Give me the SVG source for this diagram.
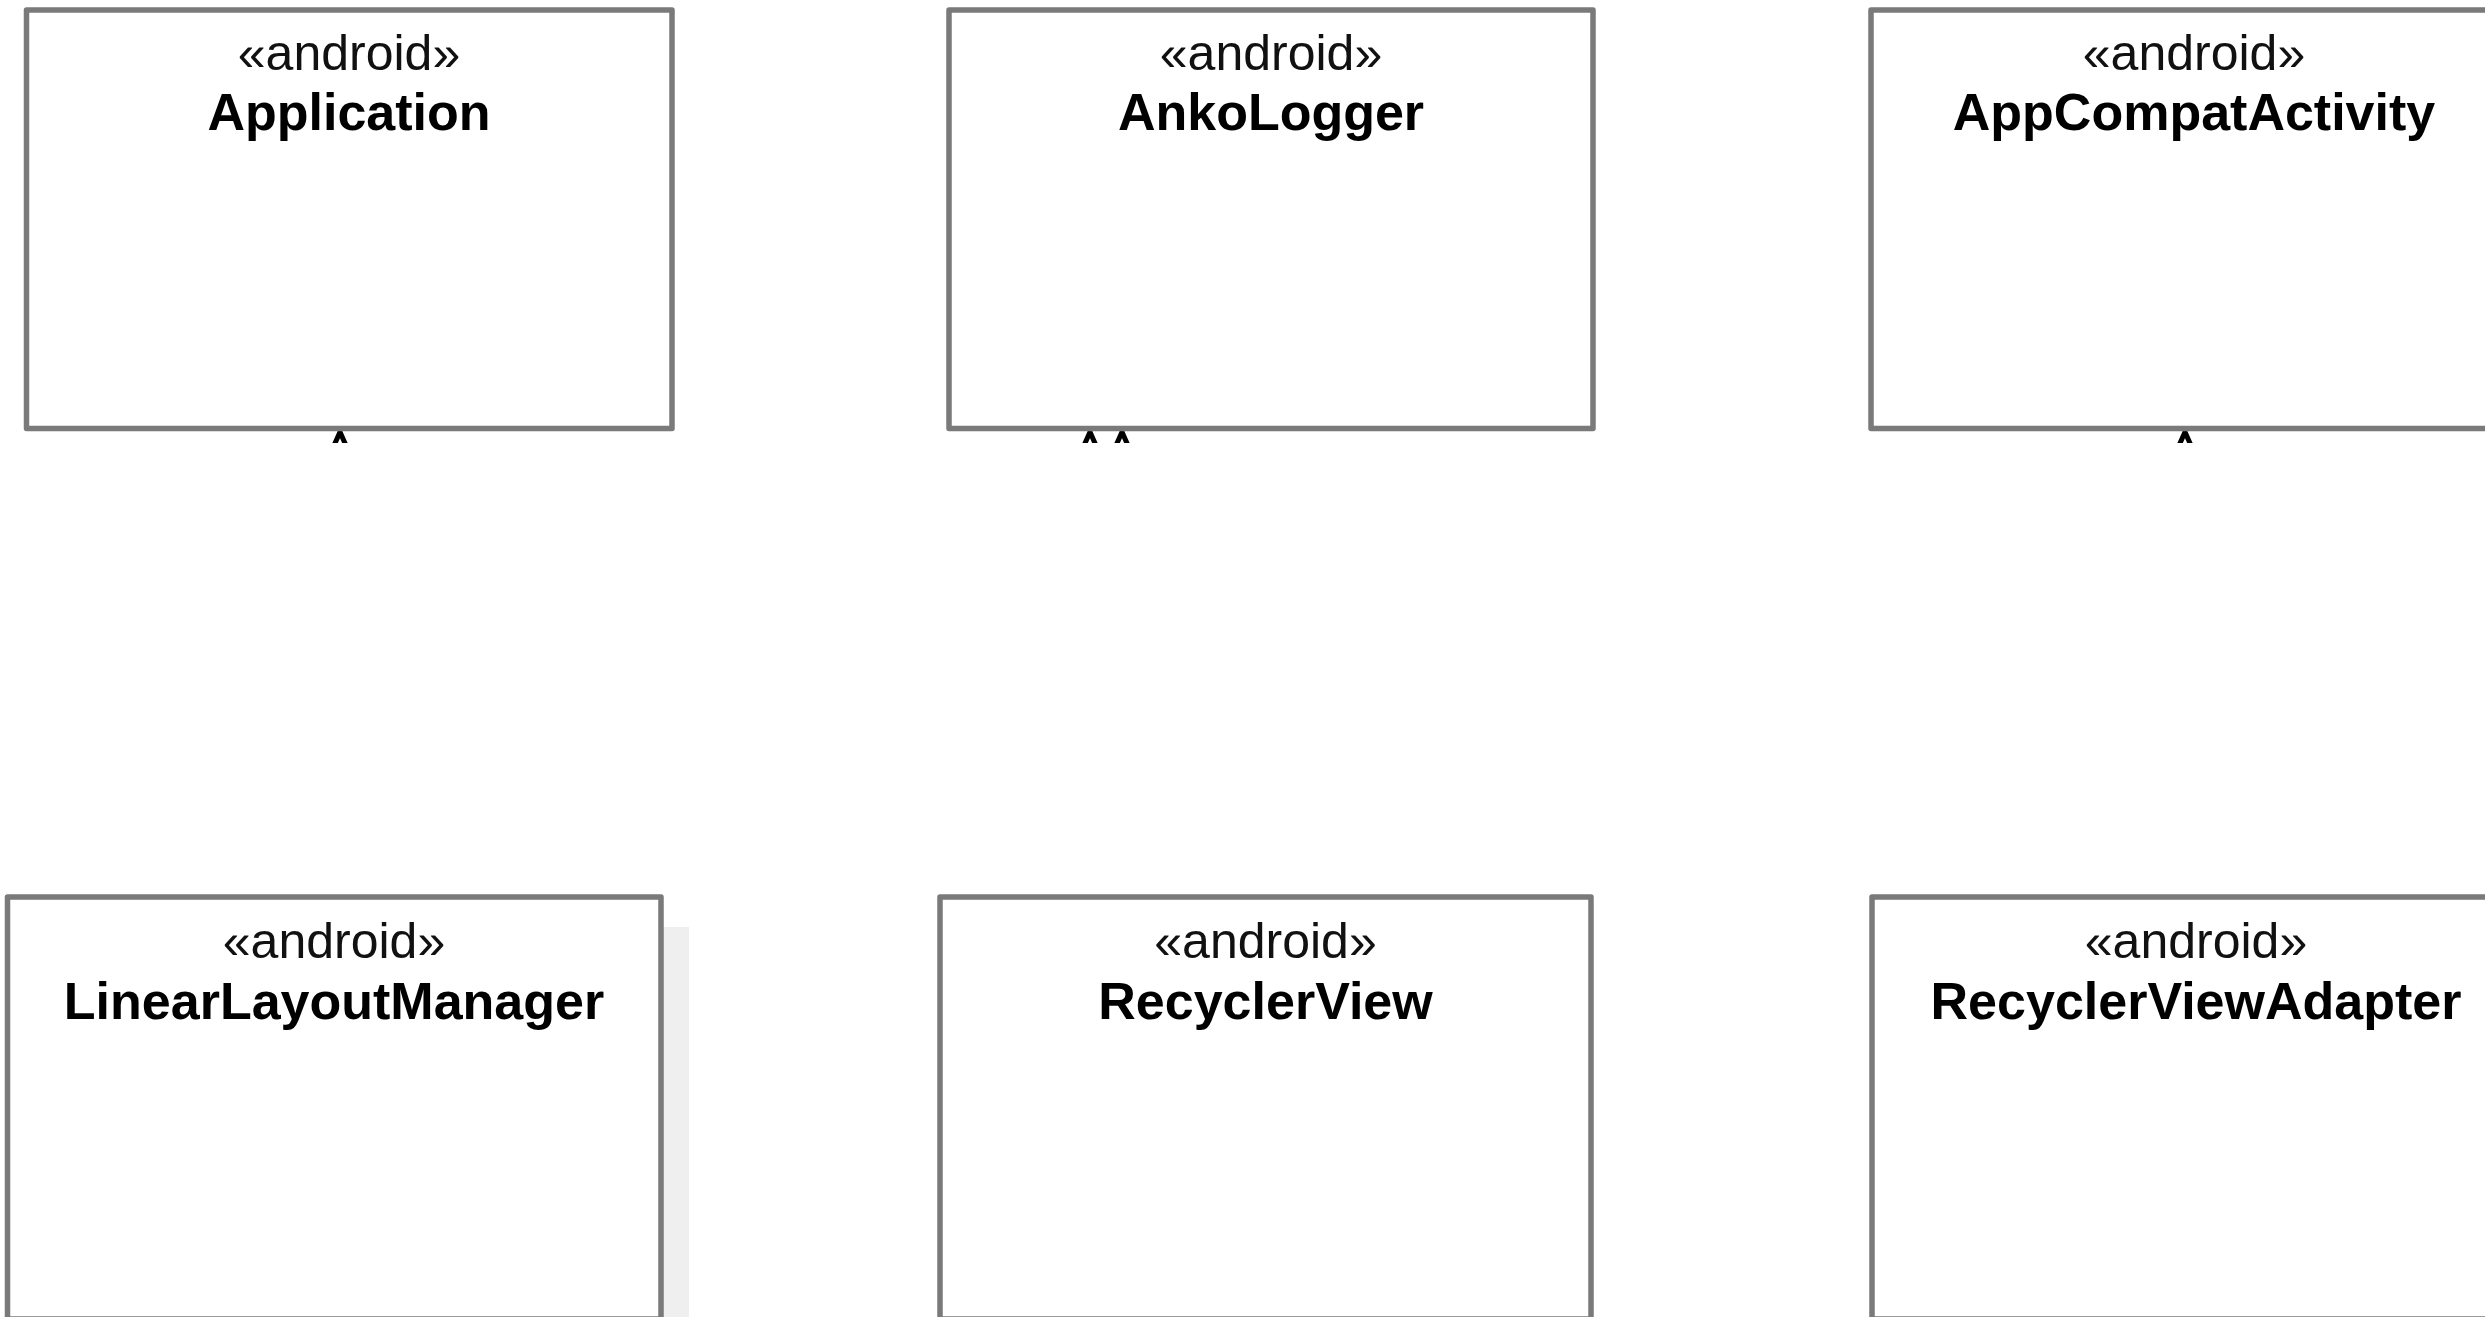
<svg xmlns="http://www.w3.org/2000/svg" width="2485" height="1317" viewBox="0 0 2485 1317">
  <style>
    .box { fill: #ffffff; stroke: #7a7a7a; stroke-width: 5.5; stroke-linejoin: round; }
    .st { font-family: "Liberation Sans", Arial, sans-serif; font-size: 50px; fill: #111111; text-anchor: middle; }
    .nm { font-family: "Liberation Sans", Arial, sans-serif; font-size: 52px; font-weight: bold; fill: #000000; text-anchor: middle; }
    .tip { fill: #ffffff; stroke: #000000; stroke-width: 5; stroke-linejoin: miter; }
  </style>
  <defs>
    <clipPath id="tipclip">
      <rect x="0" y="426" width="2485" height="17"/>
    </clipPath>
  </defs>
  <rect width="2485" height="1317" fill="#ffffff"/>

  <g id="connectors" clip-path="url(#tipclip)">
    <path class="tip" d="M340 432 L332 450 L348 450 Z"/>
    <path class="tip" d="M1090 432 L1082 450 L1098 450 Z"/>
    <path class="tip" d="M1122 432 L1114 450 L1130 450 Z"/>
    <path class="tip" d="M2185 432 L2177 450 L2193 450 Z"/>
  </g>

  <g id="node-application">
    <rect class="box" x="26.5" y="10" width="645.5" height="418.5"/>
    <text class="st" x="349" y="70">«android»</text>
    <text class="nm" x="349" y="130">Application</text>
  </g>

  <g id="node-ankologger">
    <rect class="box" x="949" y="10" width="644" height="418.5"/>
    <text class="st" x="1271" y="70">«android»</text>
    <text class="nm" x="1271" y="130">AnkoLogger</text>
  </g>

  <g id="node-appcompatactivity">
    <rect class="box" x="1871" y="10" width="646" height="418.5"/>
    <text class="st" x="2194" y="70">«android»</text>
    <text class="nm" x="2194" y="130">AppCompatActivity</text>
  </g>

  <g id="node-linearlayoutmanager">
    <rect x="663" y="927" width="26" height="400" fill="#efefef"/>
    <rect class="box" x="7.5" y="897" width="653.5" height="422"/>
    <text class="st" x="334" y="958">«android»</text>
    <text class="nm" x="334" y="1019">LinearLayoutManager</text>
  </g>

  <g id="node-recyclerview">
    <rect class="box" x="940" y="897" width="651" height="422"/>
    <text class="st" x="1265.5" y="958">«android»</text>
    <text class="nm" x="1265.5" y="1019">RecyclerView</text>
  </g>

  <g id="node-recyclerviewadapter">
    <rect class="box" x="1872" y="897" width="648" height="422"/>
    <text class="st" x="2196" y="958">«android»</text>
    <text class="nm" x="2196" y="1019">RecyclerViewAdapter</text>
  </g>
</svg>
